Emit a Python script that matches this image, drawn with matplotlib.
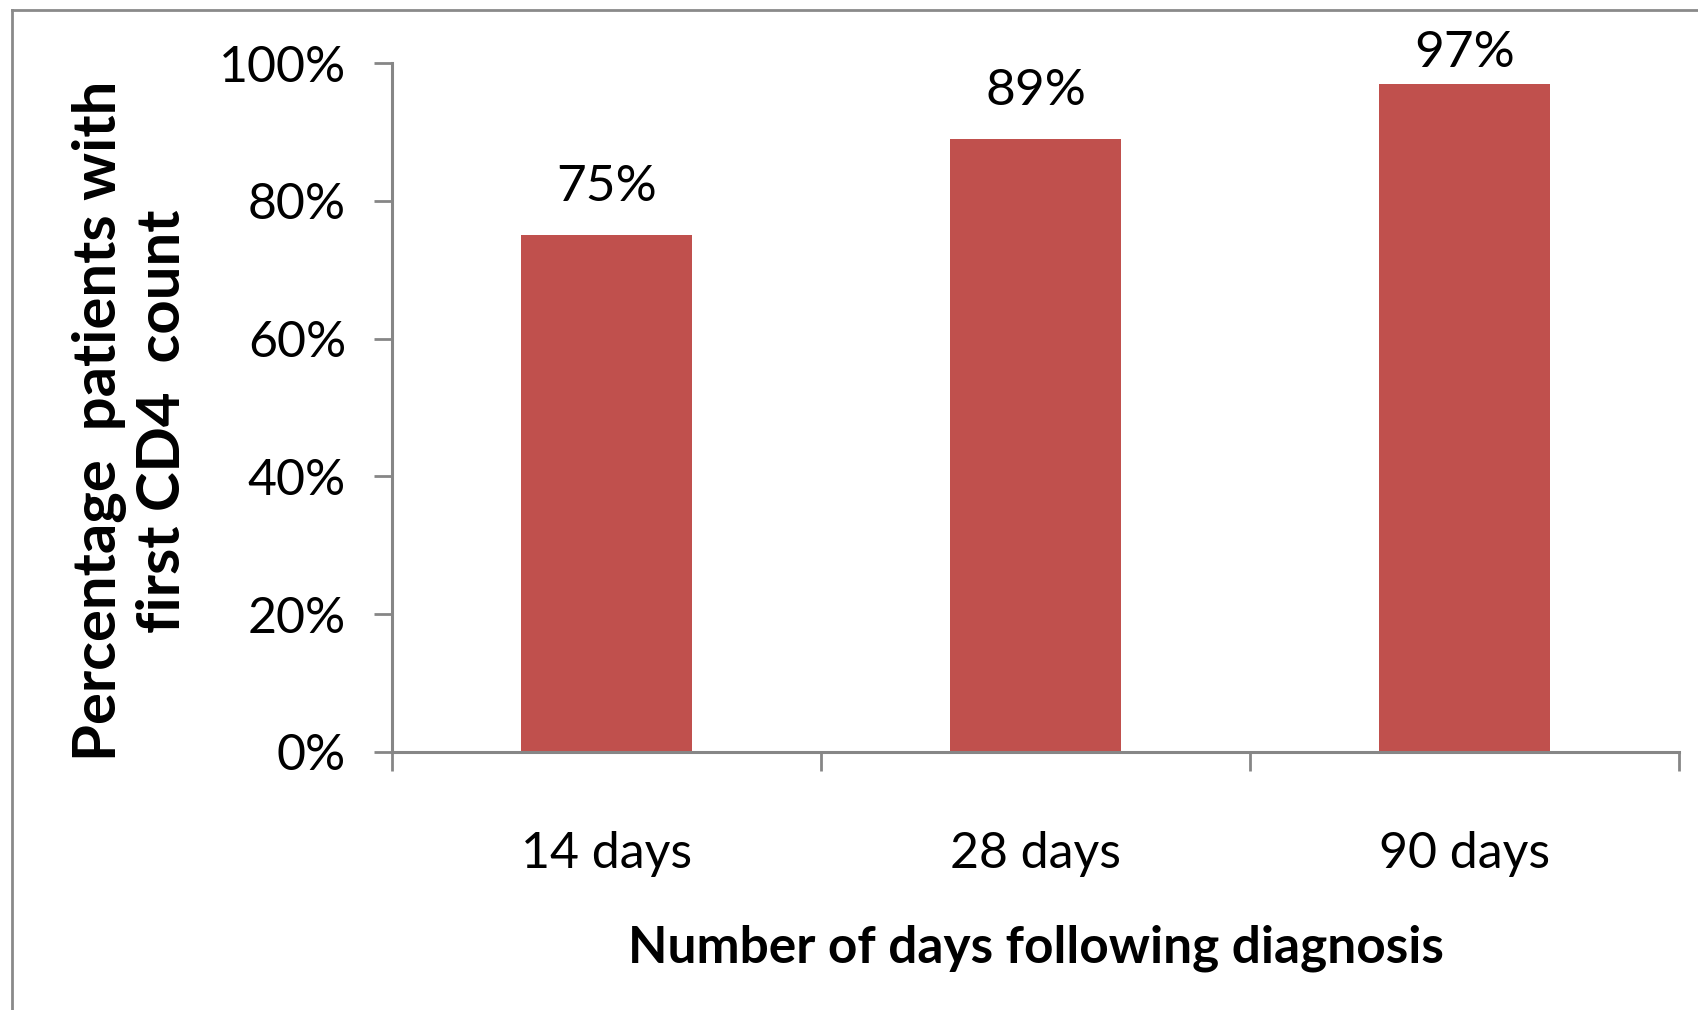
import matplotlib
matplotlib.use("Agg")
import matplotlib.pyplot as plt
from matplotlib.lines import Line2D

categories = ["14 days", "28 days", "90 days"]
percent_values = [75, 89, 97]
y_ticks = [0, 20, 40, 60, 80, 100]
y_tick_labels = ["0%", "20%", "40%", "60%", "80%", "100%"]

plt.rcParams["font.family"] = ["Lato", "DejaVu Sans"]

W, H = 1698, 1010
fig = plt.figure(figsize=(W / 100, H / 100), dpi=100)
ax = fig.add_axes([392 / W, 1 - 752 / H, (1679 - 392) / W, (752 - 63) / H])

bar_color = "#C0504D"
axis_color = "#868686"

x = list(range(len(categories)))
ax.bar(x, percent_values, width=0.4, color=bar_color, zorder=2)

# value labels above bars, kept from running past the top of the chart
for xi, v in zip(x, percent_values):
    ax.text(xi, min(v + 7.0, 101.4), f"{v}%", ha="center", va="center",
            fontsize=37, clip_on=False)

ax.set_xlim(-0.5, len(categories) - 0.5)
ax.set_ylim(0, 100)
ax.set_yticks(y_ticks)
ax.set_yticklabels(y_tick_labels, fontsize=36)

# category ticks sit at the boundaries between categories
ax.set_xticks([i - 0.5 for i in range(len(categories) + 1)])
ax.set_xticklabels([])
ax.set_xticks(x, minor=True)
ax.set_xticklabels(categories, minor=True, fontsize=36)
ax.tick_params(axis="x", which="minor", length=0, pad=57)
ax.tick_params(axis="x", which="major", length=14, width=2, color=axis_color, direction="out")
ax.tick_params(axis="y", length=13, width=2, color=axis_color, pad=20)

for side in ["top", "right"]:
    ax.spines[side].set_visible(False)
for side in ["left", "bottom"]:
    ax.spines[side].set_color(axis_color)
    ax.spines[side].set_linewidth(2.2)

ax.set_xlabel("Number of days following diagnosis", fontsize=37, fontweight="bold", labelpad=34)
ax.set_ylabel("Percentage  patients with\nfirst CD4  count", fontsize=43, fontweight="bold",
              labelpad=21, linespacing=1.2)
ax.yaxis.label.set_y(0.48)

# outer chart frame (left and top edges)
fig.add_artist(Line2D([12 / W, 12 / W], [0, 1 - 10 / H], transform=fig.transFigure,
                      color="#8a8a8a", linewidth=2))
fig.add_artist(Line2D([12 / W, 1], [1 - 10 / H, 1 - 10 / H], transform=fig.transFigure,
                      color="#8a8a8a", linewidth=2))

fig.savefig("out.png", dpi=100)
